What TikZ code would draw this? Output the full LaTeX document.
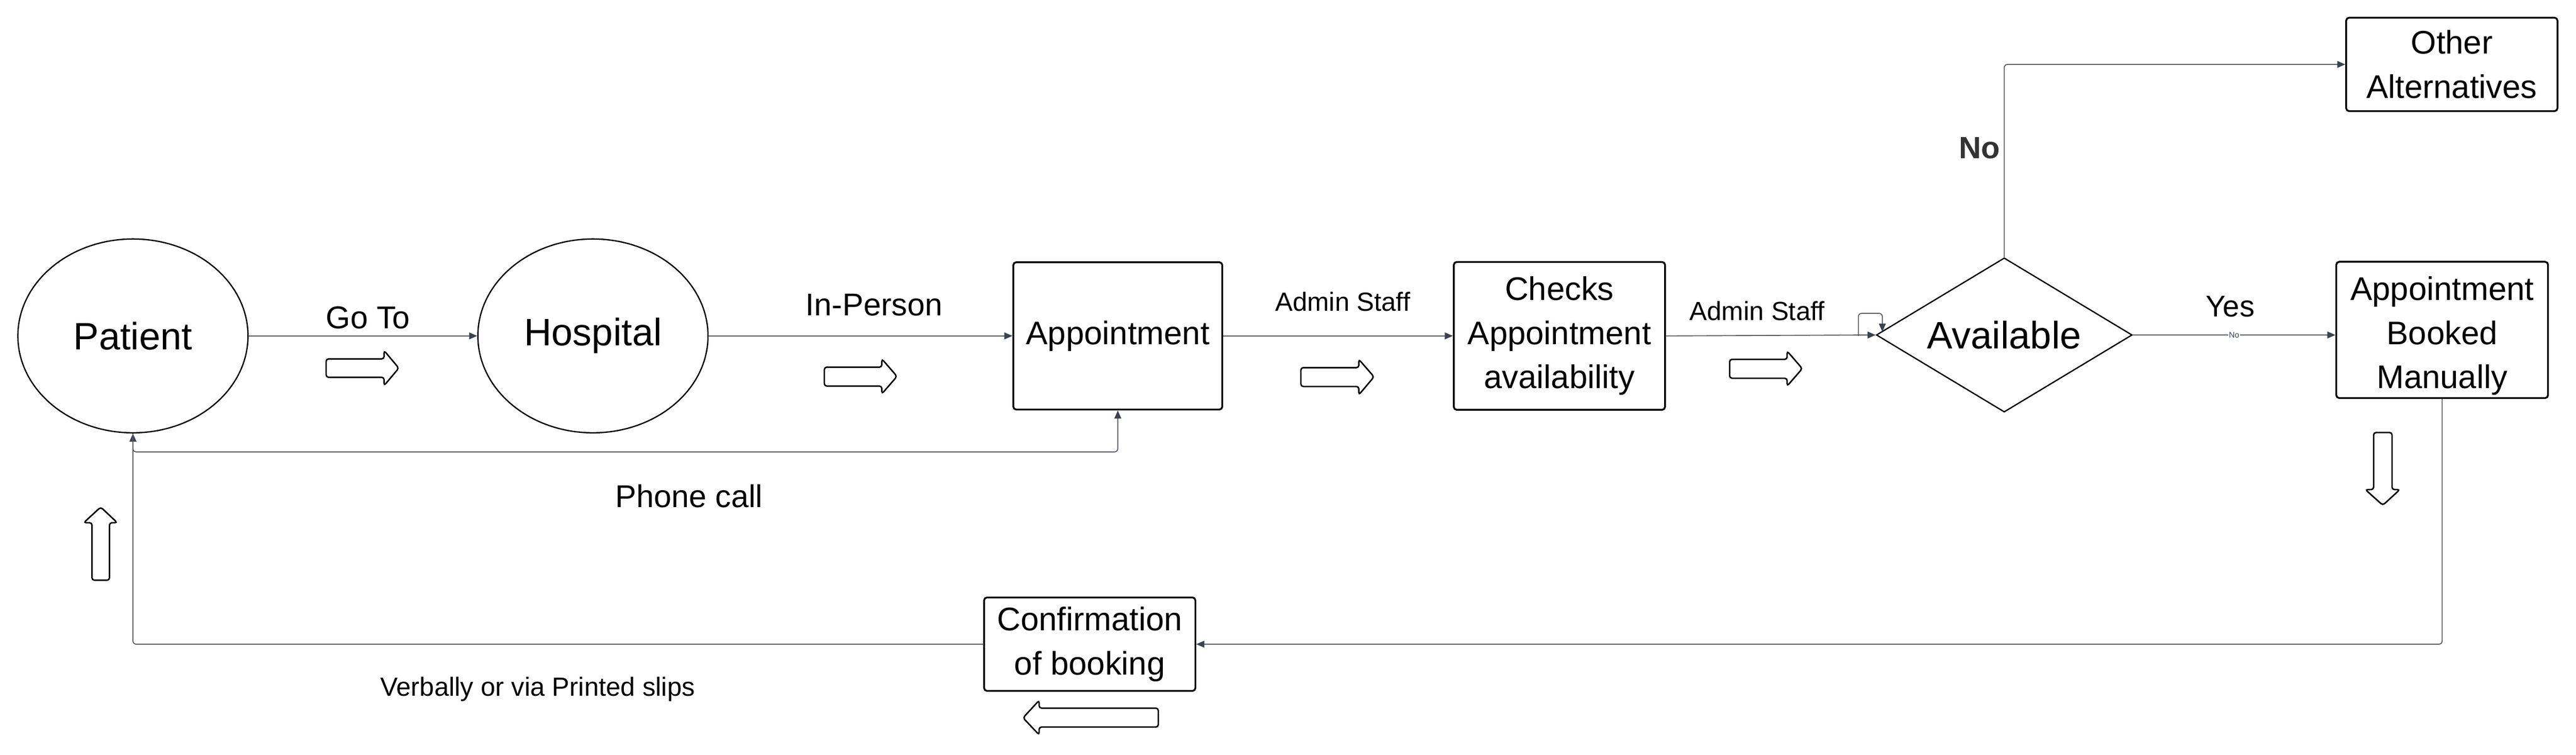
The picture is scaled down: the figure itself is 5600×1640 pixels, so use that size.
\documentclass[tikz,border=0pt]{standalone}
\usepackage{fontspec}
\setmainfont{Liberation Sans}
\usetikzlibrary{shapes.geometric,arrows.meta}
\definecolor{conncol}{RGB}{88,90,95}
\definecolor{tipcol}{RGB}{60,66,76}
\definecolor{nolab}{RGB}{51,51,51}
\newcommand\bigtxt{\fontsize{23.6pt}{28pt}\selectfont}
\newcommand\boxtxt{\fontsize{20.2pt}{27.3pt}\selectfont}
\begin{document}
\begin{tikzpicture}[x=0.01cm,y=-0.01cm,
  conn/.style={draw=conncol, line width=0.6pt, rounded corners=2pt,
    -{Triangle[length=5pt,width=4.2pt,color=tipcol]}},
  ell/.style={ellipse, draw=black, line width=0.8pt, minimum width=5cm, minimum height=4.21cm, inner sep=0pt, font=\bigtxt},
  box/.style={rectangle, draw=black, line width=1.1pt, rounded corners=1.8pt, align=center, inner sep=0pt, font=\boxtxt},
  dec/.style={diamond, draw=black, line width=0.8pt, aspect=1.66, minimum width=5.56cm, minimum height=3.35cm, inner sep=0pt, font=\bigtxt},
  harrow/.style={draw=black, line width=0.9pt, rounded corners=1.5pt, fill=white},
  lbl/.style={anchor=base, inner sep=0pt, font=\fontsize{19.5pt}{23pt}\selectfont},
  slbl/.style={anchor=base, inner sep=0pt, font=\fontsize{16.2pt}{20pt}\selectfont}]
\useasboundingbox (0,0) rectangle (5600,1640);

% nodes
\node[ell] (pat) at (289,730) {Patient};
\node[ell] (hos) at (1289,730) {Hospital};
\node[box, minimum width=4.54cm, minimum height=3.2cm] (appt) at (2430,730) {Appointment};
\node[box, minimum width=4.59cm, minimum height=3.21cm] (chk) at (3390,730) {Checks\\Appointment\\availability};
\node[dec] (dia) at (4357,728) {Available};
\node[box, minimum width=4.6cm, minimum height=2.96cm] (abm) at (5309,717) {\rule{0pt}{22pt}Appointment\\Booked\\Manually};
\node[box, minimum width=4.59cm, minimum height=2.03cm] (oth) at (5330,140) {Other\\Alternatives};
\node[box, minimum width=4.59cm, minimum height=2.03cm] (conf) at (2369,1400) {Confirmation\\of booking};

% connectors
\draw[conn] (pat.east) -- (hos.west);
\draw[conn] (hos.east) -- (appt.west);
\draw[conn] (appt.east) -- (chk.west);
\draw[conn] (chk.east) -- (dia.west);
\coordinate (lp) at (4040,730);
\coordinate (lq) at (4092,681);
\coordinate (lr) at (4092,721);
\draw[conn] (lp) |- (lq) -- (lr);
\draw[conn] (dia.east) -- (dia.east -| abm.west)
  node[pos=0.5, fill=white, inner sep=0.5pt, text=tipcol, font=\fontsize{5pt}{6pt}\selectfont] (nosmall) {No};
\draw[conn] (dia.north) |- (oth.west);
\draw[conn] (abm.south) |- (conf.east);
\draw[conn] (conf.west) -| (pat.south);
\draw[conn] (pat.south) -- ++(0,40) -| (appt.south);

% labels
\node[lbl] (lgo) at (800,714) {Go To};
\node[lbl] (lin) at (1900,686) {In-Person};
\node[slbl] (lad1) at (2919,676) {Admin Staff};
\node[slbl] (lad2) at (3820,696) {Admin Staff};
\node[lbl, font=\fontsize{18.5pt}{22pt}\selectfont] (lyes) at (4848,688) {Yes};
\node[lbl, font=\fontsize{19pt}{22pt}\selectfont\bfseries, text=nolab] (lno) at (4303,344) {No};
\node[lbl] (lph) at (1498,1103) {Phone call};
\node[slbl] (lverb) at (1169,1512) {Verbally or via Printed slips};

% hollow block arrows
\draw[harrow] (709,780) -- (835,780) -- (835,762) -- (867,800) -- (835,838) -- (835,820) -- (709,820) -- cycle;
\draw[harrow] (1792,798) -- (1917,798) -- (1917,780) -- (1950,818) -- (1917,856) -- (1917,839) -- (1792,839) -- cycle;
\draw[harrow] (2828,799) -- (2954,799) -- (2954,781) -- (2987,819) -- (2954,858) -- (2954,840) -- (2828,840) -- cycle;
\draw[harrow] (3760,781) -- (3885,781) -- (3885,763) -- (3918,801) -- (3885,839) -- (3885,822) -- (3760,822) -- cycle;
\draw[harrow] (200,1261) -- (200,1136) -- (182,1136) -- (219,1102) -- (255,1136) -- (238,1136) -- (238,1261) -- cycle;
\draw[harrow] (5160,940) -- (5200,940) -- (5200,1064) -- (5217,1064) -- (5180,1098) -- (5142,1064) -- (5160,1064) -- cycle;
\draw[harrow] (2518,1539) -- (2259,1539) -- (2259,1522) -- (2224,1560) -- (2259,1597) -- (2259,1580) -- (2518,1580) -- cycle;
\end{tikzpicture}
\end{document}
